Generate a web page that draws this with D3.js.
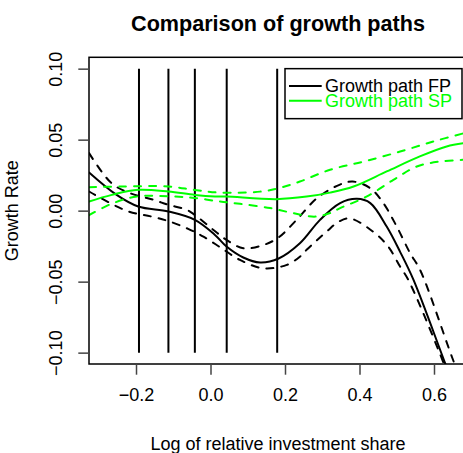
<!DOCTYPE html>
<html>
<head>
<meta charset="utf-8">
<script src="https://cdn.jsdelivr.net/npm/d3@7"></script>
<style>
  html, body { margin: 0; padding: 0; background: #fff; }
  svg { display: block; font-family: "Liberation Sans", Arial, Helvetica, sans-serif; }
</style>
</head>
<body>
<svg id="chart" width="463" height="453"></svg>
<script>
// Fitted growth path for FP with its upper and lower bands
const fpX      = [-0.326, -0.252, -0.194, -0.113, -0.042, 0.012, 0.043, 0.088, 0.133, 0.183, 0.240, 0.294, 0.348, 0.393, 0.429, 0.473, 0.509, 0.545, 0.630, 0.680];
const fpFit    = [0.0269, 0.0111, 0.0029, -0.0006, -0.0065, -0.0171, -0.0253, -0.0330, -0.0365, -0.0337, -0.0230, -0.0065, 0.0053, 0.0083, 0.0053, -0.0112, -0.0290, -0.0488, -0.1075, -0.1420];

const fpUpX    = [-0.326, -0.266, -0.216, -0.153, -0.113, -0.064, -0.042, 0.008, 0.043, 0.088, 0.142, 0.183, 0.231, 0.286, 0.346, 0.382, 0.429, 0.464, 0.500, 0.536, 0.563, 0.648, 0.680];
const fpUpper  = [0.0405, 0.0194, 0.0123, 0.0076, 0.0041, 0.0006, -0.0030, -0.0136, -0.0206, -0.0265, -0.0242, -0.0188, -0.0065, 0.0088, 0.0182, 0.0205, 0.0158, 0.0053, -0.0112, -0.0300, -0.0419, -0.1029, -0.1250];

const fpLoX    = [-0.326, -0.302, -0.220, -0.158, -0.109, -0.060, -0.019, 0.030, 0.079, 0.142, 0.205, 0.240, 0.258, 0.312, 0.346, 0.375, 0.436, 0.477, 0.509, 0.531, 0.612, 0.680];
const fpLower  = [0.0135, 0.0099, -0.0006, -0.0042, -0.0077, -0.0128, -0.0183, -0.0265, -0.0347, -0.0406, -0.0382, -0.0324, -0.0276, -0.0147, -0.0075, -0.0055, -0.0147, -0.0253, -0.0394, -0.0488, -0.0982, -0.1450];

// Fitted growth path for SP with its upper and lower bands
const spX      = [-0.326, -0.265, -0.194, -0.113, -0.042, 0.012, 0.043, 0.177, 0.258, 0.321, 0.384, 0.473, 0.562, 0.634, 0.680];
const spFit    = [0.0064, 0.0111, 0.0147, 0.0135, 0.0111, 0.0100, 0.0099, 0.0081, 0.0099, 0.0127, 0.0170, 0.0276, 0.0382, 0.0452, 0.0475];

const spUpX    = [-0.326, -0.240, -0.113, -0.042, 0.026, 0.133, 0.183, 0.240, 0.321, 0.412, 0.509, 0.598, 0.680];
const spUpper  = [0.0165, 0.0170, 0.0170, 0.0146, 0.0127, 0.0134, 0.0158, 0.0205, 0.0288, 0.0346, 0.0416, 0.0487, 0.0545];

const spLoX    = [-0.326, -0.266, -0.198, -0.100, -0.038, 0.026, 0.079, 0.160, 0.223, 0.281, 0.321, 0.348, 0.420, 0.491, 0.554, 0.616, 0.680];
const spLower  = [-0.0032, 0.0048, 0.0100, 0.0100, 0.0088, 0.0064, 0.0048, 0.0018, -0.0018, -0.0042, -0.0017, 0.0018, 0.0100, 0.0217, 0.0311, 0.0346, 0.0358];

// Vertical reference lines and their vertical extent
const vLines   = [-0.192, -0.113, -0.042, 0.0435, 0.179];
const vExtent  = [-0.1, 0.1];

// Axis ticks
const xTicks   = [-0.2, 0.0, 0.2, 0.4, 0.6];
const yTicks   = [-0.10, -0.05, 0.00, 0.05, 0.10];

const legendLabels = ["Growth path FP", "Growth path SP"];
const legendColors = ["#000000", "#00ff00"];

const svg = d3.select("#chart");
const plot = { left: 89, right: 467, top: 57.3, bottom: 364 };

const x = d3.scaleLinear().domain([-0.3262, 0.6886]).range([plot.left, plot.right]);
const y = d3.scaleLinear().domain([-0.108, 0.108]).range([plot.bottom, plot.top]);

svg.append("defs").append("clipPath").attr("id", "plotclip")
  .append("rect")
  .attr("x", plot.left).attr("y", plot.top)
  .attr("width", plot.right - plot.left).attr("height", plot.bottom - plot.top);

const layer = svg.append("g").attr("clip-path", "url(#plotclip)");

// vertical lines
layer.selectAll("line.vline").data(vLines).enter().append("line")
  .attr("class", "vline")
  .attr("x1", d => x(d)).attr("x2", d => x(d))
  .attr("y1", y(vExtent[0])).attr("y2", y(vExtent[1]))
  .attr("stroke", "#000").attr("stroke-width", 2);

const line = d3.line().x(d => x(d[0])).y(d => y(d[1])).curve(d3.curveCatmullRom.alpha(0.5));
const zip = (a, b) => a.map((v, i) => [v, b[i]]);

const series = [
  { xs: fpX,   ys: fpFit,   color: "#000000", dash: null },
  { xs: fpUpX, ys: fpUpper, color: "#000000", dash: "7,8" },
  { xs: fpLoX, ys: fpLower, color: "#000000", dash: "7,8" },
  { xs: spX,   ys: spFit,   color: "#00ff00", dash: null },
  { xs: spUpX, ys: spUpper, color: "#00ff00", dash: "7,8" },
  { xs: spLoX, ys: spLower, color: "#00ff00", dash: "7,8" }
];

series.forEach(s => {
  layer.append("path")
    .attr("d", line(zip(s.xs, s.ys)))
    .attr("fill", "none")
    .attr("stroke", s.color)
    .attr("stroke-width", 2)
    .attr("stroke-linecap", "round")
    .attr("stroke-dasharray", s.dash);
});

// plot frame
svg.append("rect")
  .attr("x", plot.left).attr("y", plot.top)
  .attr("width", plot.right - plot.left).attr("height", plot.bottom - plot.top)
  .attr("fill", "none").attr("stroke", "#000").attr("stroke-width", 1.5);

// x axis
const xAxis = d3.axisBottom(x).tickValues(xTicks).tickFormat(d3.format(".1f")).tickSize(10.7).tickPadding(14);
const gx = svg.append("g").attr("transform", `translate(0,${plot.bottom})`).call(xAxis);
gx.select(".domain").remove();
gx.selectAll(".tick line").attr("stroke", "#444").attr("stroke-width", 1.5);
gx.selectAll(".tick text").attr("font-size", 18).attr("fill", "#000")
  .text(d => d3.format(".1f")(d).replace("-", "\u2212"));

// y axis (labels parallel to the axis)
const yAxis = d3.axisLeft(y).tickValues(yTicks).tickFormat(d3.format(".2f")).tickSize(10.7);
const gy = svg.append("g").attr("transform", `translate(${plot.left},0)`).call(yAxis);
gy.select(".domain").remove();
gy.selectAll(".tick line").attr("stroke", "#444").attr("stroke-width", 1.5);
gy.selectAll(".tick text")
  .attr("font-size", 18).attr("fill", "#000")
  .attr("x", null).attr("dy", null)
  .attr("text-anchor", "middle")
  .attr("transform", "translate(-27,0) rotate(-90)")
  .text(d => d3.format(".2f")(d).replace("-", "\u2212"));

// titles
svg.append("text")
  .attr("x", (plot.left + plot.right) / 2).attr("y", 31)
  .attr("text-anchor", "middle").attr("font-size", 21.6).attr("font-weight", "bold")
  .text("Comparison of growth paths");

svg.append("text")
  .attr("x", (plot.left + plot.right) / 2).attr("y", 450)
  .attr("text-anchor", "middle").attr("font-size", 18)
  .text("Log of relative investment share");

svg.append("text")
  .attr("transform", `translate(18.3,${(plot.top + plot.bottom) / 2}) rotate(-90)`)
  .attr("text-anchor", "middle").attr("font-size", 18)
  .text("Growth Rate");

// legend anchored at (0.2, 0.1)
const lg = svg.append("g");
const lx = x(0.2), ly = y(0.1);
lg.append("rect").attr("x", lx).attr("y", ly).attr("width", 177).attr("height", 50)
  .attr("fill", "#fff").attr("stroke", "#000").attr("stroke-width", 1.5);
legendLabels.forEach((lab, i) => {
  const yy = ly + 17.4 + i * 14.7;
  lg.append("line").attr("x1", lx + 4).attr("x2", lx + 36.7).attr("y1", yy).attr("y2", yy)
    .attr("stroke", legendColors[i]).attr("stroke-width", 2);
  lg.append("text").attr("x", lx + 40).attr("y", yy + 6.3).attr("font-size", 18)
    .attr("fill", legendColors[i]).text(lab);
});
</script>
</body>
</html>
